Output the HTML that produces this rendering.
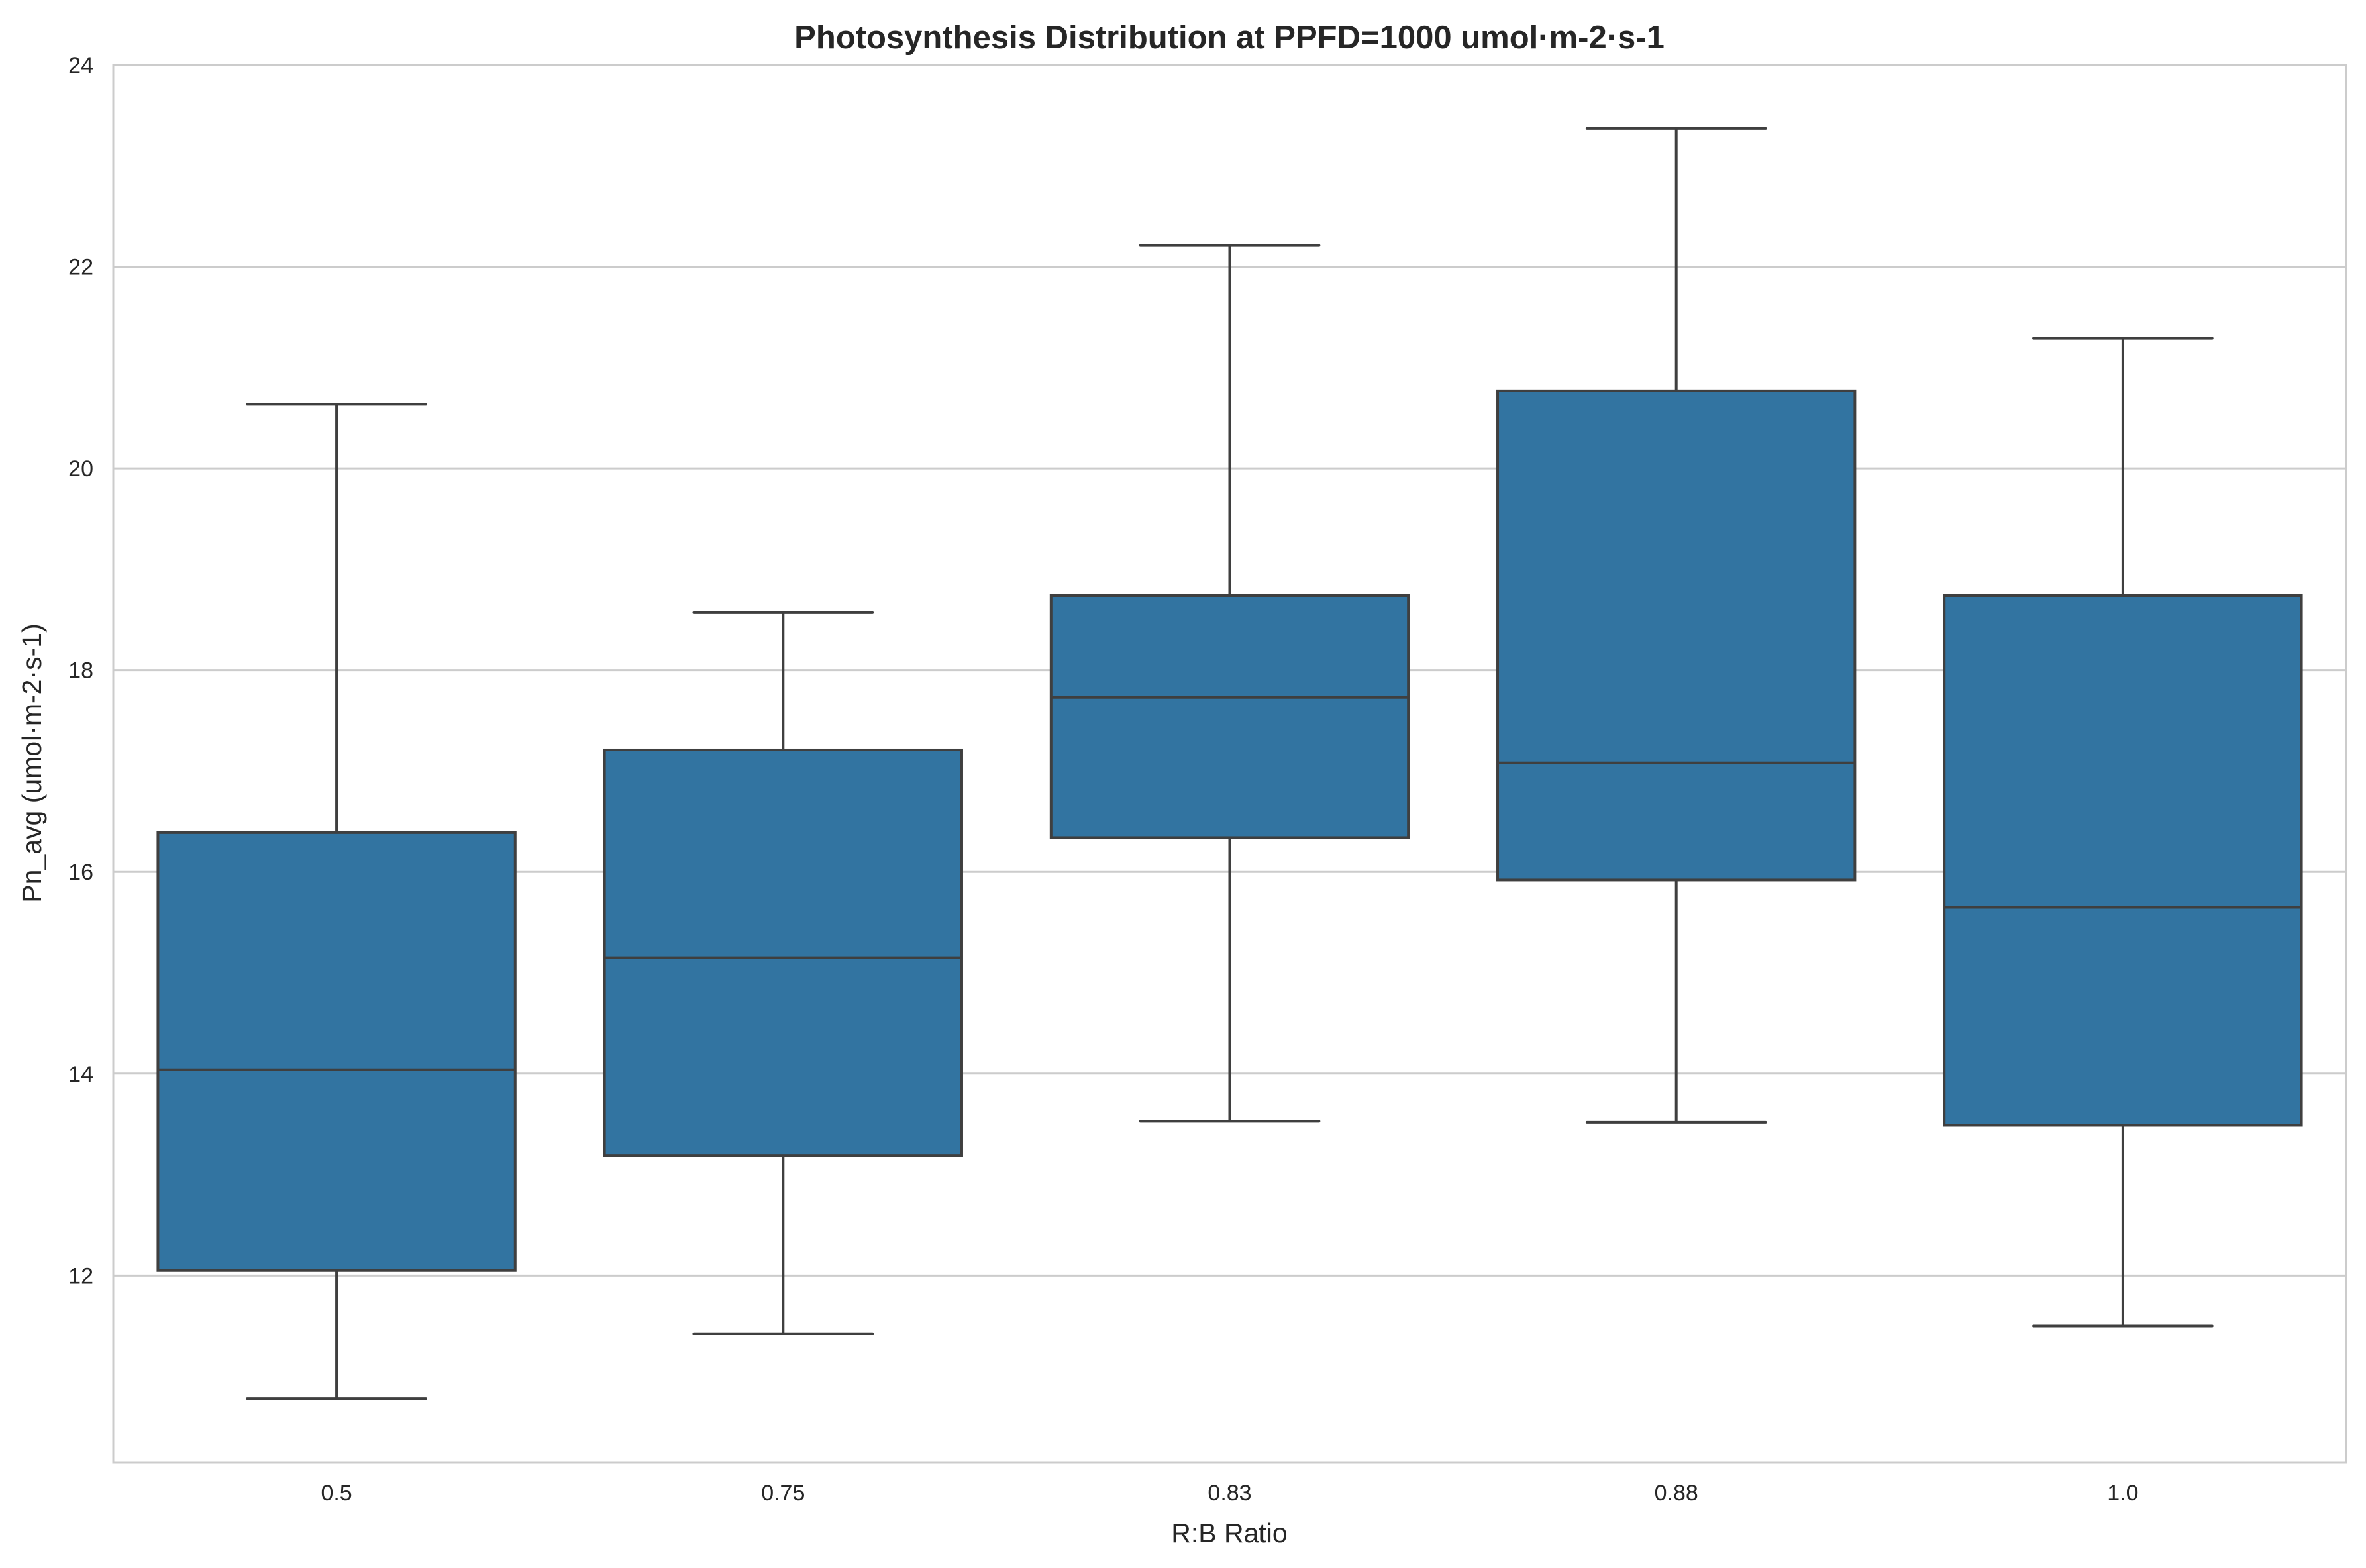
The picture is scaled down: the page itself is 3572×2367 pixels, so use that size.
<!DOCTYPE html>
<html><head><meta charset="utf-8"><style>
html,body{margin:0;padding:0;background:#fff}
svg{display:block;font-family:"Liberation Sans",Arial,sans-serif}
</style></head><body>
<svg id="chart" width="3572" height="2367" viewBox="0 0 3572 2367">
<rect width="3572" height="2367" fill="#fff"/>
<g id="grid"></g><g id="boxes"></g><g id="axes"></g>
<text x="1856" y="73" text-anchor="middle" font-size="49" font-weight="bold" fill="#262626">Photosynthesis Distribution at PPFD=1000 umol·m-2·s-1</text>
<text x="1856" y="2328" text-anchor="middle" font-size="41" fill="#262626">R:B Ratio</text>
<text transform="translate(62,1152) rotate(-90)" text-anchor="middle" font-size="41" fill="#262626">Pn_avg (umol·m-2·s-1)</text>
</svg>
<script>
const categories = ["0.5","0.75","0.83","0.88","1.0"];
const whiskerLow = [10.78,11.42,13.53,13.52,11.50];
const q1Values = [12.05,13.19,16.34,15.92,13.49];
const medianValues = [14.04,15.15,17.73,17.08,15.65];
const q3Values = [16.39,17.21,18.74,20.77,18.74];
const whiskerHigh = [20.635,18.57,22.21,23.37,21.29];
const yTicks = [12,14,16,18,20,22,24];

const L=171,R=3542,T=98,B=2208,yMin=10.144,yMax=24;
const NS="http://www.w3.org/2000/svg";
const y=v=>B-(v-yMin)/(yMax-yMin)*(B-T);
const band=(R-L)/categories.length;
const x=i=>L+band*(i+0.5);
function mk(tag,attrs,parent){const e=document.createElementNS(NS,tag);for(const k in attrs)e.setAttribute(k,attrs[k]);parent.appendChild(e);return e;}
const grid=document.getElementById('grid'),boxes=document.getElementById('boxes'),axes=document.getElementById('axes');
yTicks.forEach(t=>{
  const g=mk('line',{x1:L,x2:R,y1:y(t),y2:y(t),stroke:'#cccccc','stroke-width':3},grid);
  
  
  const tx=mk('text',{x:141,y:y(t)+12,'text-anchor':'end','font-size':34,fill:'#262626'},axes);
  tx.textContent=t;
  
  
});
const frame=mk('rect',{x:L,y:T,width:R-L,height:B-T,fill:'none',stroke:'#cccccc','stroke-width':3},axes);


const bw=band*0.8,cw=bw/2,lc='#3f3f3f';
categories.forEach((c,i)=>{
  const cx=x(i);
  const g=mk('g',{},boxes);
  
  
  mk('line',{x1:cx,x2:cx,y1:y(whiskerHigh[i]),y2:y(q3Values[i]),stroke:lc,'stroke-width':4},g);
  mk('line',{x1:cx,x2:cx,y1:y(q1Values[i]),y2:y(whiskerLow[i]),stroke:lc,'stroke-width':4},g);
  mk('line',{x1:cx-cw/2,x2:cx+cw/2,y1:y(whiskerHigh[i]),y2:y(whiskerHigh[i]),stroke:lc,'stroke-width':4,'stroke-linecap':'round'},g);
  mk('line',{x1:cx-cw/2,x2:cx+cw/2,y1:y(whiskerLow[i]),y2:y(whiskerLow[i]),stroke:lc,'stroke-width':4,'stroke-linecap':'round'},g);
  mk('rect',{x:cx-bw/2,y:y(q3Values[i]),width:bw,height:y(q1Values[i])-y(q3Values[i]),fill:'#3274a1',stroke:lc,'stroke-width':4},g);
  mk('line',{x1:cx-bw/2,x2:cx+bw/2,y1:y(medianValues[i]),y2:y(medianValues[i]),stroke:lc,'stroke-width':4},g);
  const tx=mk('text',{x:cx,y:2265,'text-anchor':'middle','font-size':34,fill:'#262626'},axes);
  tx.textContent=c;
  
  
});
</script>
</body></html>
